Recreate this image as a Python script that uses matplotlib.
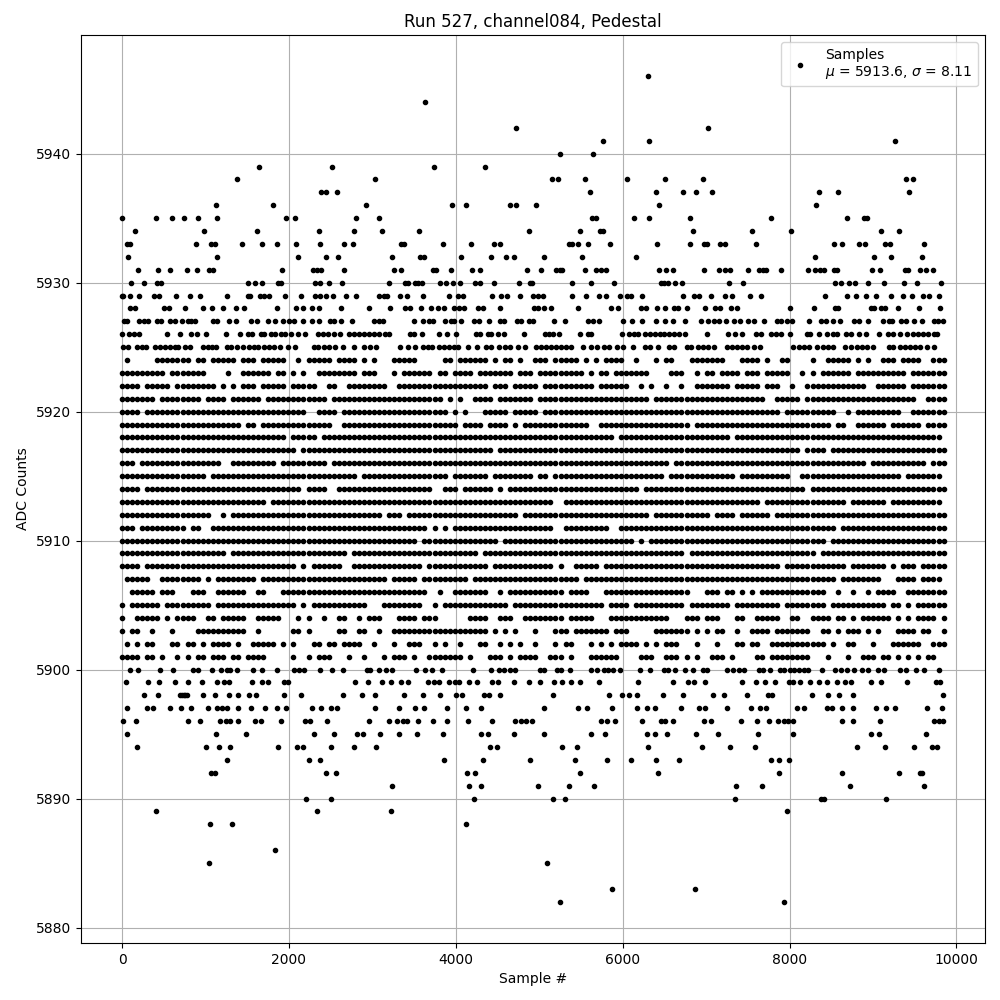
import matplotlib
matplotlib.use("Agg")
import matplotlib.pyplot as plt

# ADC levels with few samples: sample numbers
lvl_5946 = [6298]
lvl_5944 = [3632]
lvl_5942 = [4724, 7018]
lvl_5941 = [5758, 6310, 9262]
lvl_5940 = [5254, 5650]
lvl_5939 = [1640, 2516, 3740, 4352]
lvl_5938 = [1376, 3032, 5158, 5230, 5554, 6046, 6502, 6958, 9394, 9478]
lvl_5937 = [2384, 2444, 2576, 5614, 6394, 6718, 6874, 7066, 8350, 8578, 9430]
lvl_5936 = [1124, 1808, 2924, 3956, 4124, 4652, 4724, 4966, 6430, 8314]
lvl_5935 = [0, 404, 596, 740, 908, 1136, 1964, 2072, 2804, 3080, 5638, 5686, 6130, 6310, 6802, 7774, 8686, 8890, 8922]
lvl_5934 = [152, 980, 1616, 2360, 2780, 3116, 3560, 4876, 5494, 5722, 5758, 6838, 7546, 8014, 9094, 9310]
lvl_5933 = [56, 92, 884, 1064, 1112, 1436, 1676, 1856, 2084, 2372, 2660, 2768, 3344, 3380, 3848, 4184, 4460, 4532,
            5362, 5398, 5470, 5590, 5842, 6406, 6802, 6970, 7006, 7162, 7222, 7594, 8530, 8626, 8830, 8902, 9142, 9202, 9610]
lvl_5932 = [68, 1136, 2108, 2444, 2588, 3236, 3572, 3620, 4064, 4424, 4604, 4700, 5062, 5518, 6154, 8302, 9010, 9214, 9586]
lvl_5931 = [188, 428, 572, 776, 896, 1040, 1088, 1916, 2288, 2336, 2384, 2660, 3260, 3344, 3728, 3764, 3944, 4196, 4292, 4856,
            5026, 5206, 5254, 5278, 5554, 5686, 5734, 5794, 6430, 6514, 6598, 6970, 7150, 7222, 7282, 7498, 7630, 7678, 7714,
            7894, 8218, 8302, 8362, 8410, 8530, 8566, 8986, 9082, 9382, 9418, 9562, 9634, 9718]
lvl_5930 = [104, 260, 416, 464, 1508, 1592, 1676, 1868, 1904, 2312, 2372, 2480, 2636, 3200, 3392, 3428, 3512, 3548, 3596,
            3812, 3884, 3968, 4052, 4232, 4292, 4460, 4760, 4892, 4918, 5398, 5626, 5890, 6454, 6490, 6538, 6622, 6706,
            7270, 7438, 8542, 8614, 8710, 8782, 8938, 9130, 9370, 9526, 9814]
lvl_5929 = [0, 16, 92, 200, 380, 440, 644, 812, 932, 1256, 1508, 1532, 1652, 1700, 1760, 1952, 2144, 2312, 2372, 2444, 2528,
            2684, 2804, 3080, 3140, 3176, 3332, 3416, 3608, 3920, 4028, 4088, 4436, 4544, 4616, 4772, 4930, 4990, 5050,
            5398, 5566, 5710, 5794, 5962, 6046, 6094, 6226, 6718, 6850, 6910, 7054, 7222, 7306, 7522, 7654, 8422, 8686,
            8794, 8914, 9034, 9214, 9358, 9466, 9598, 9670, 9790]
lvl_5928 = [92, 152, 500, 560, 752, 968, 1076, 1208, 1364, 1460, 1856, 2084, 2168, 2276, 2360, 2624, 2960, 3212, 3392, 3452,
            3584, 3704, 3788, 3860, 3980, 4040, 4100, 4268, 4328, 4532, 4942, 4990, 5062, 5146, 5470, 5854, 5938, 6214, 6274,
            6406, 6502, 6610, 6658, 6766, 6982, 7102, 7162, 7294, 7366, 8002, 8290, 8542, 8578, 8974, 9010, 9094, 9142, 9298, 9550, 9802]
lvl_5927 = [20, 56, 200, 260, 308, 416, 464, 572, 632, 716, 788, 824, 872, 1088, 1136, 1280, 1364, 1544, 1616, 1748, 1832,
            1928, 2000, 2060, 2168, 2276, 2360, 2492, 2540, 2624, 2756, 3020, 3080, 3128, 3500, 3608, 3680, 3728, 3872, 3944,
            3980, 4064, 4220, 4280, 4400, 4532, 4580, 4736, 4784, 4880, 4930, 5182, 5314, 5590, 5650, 5710, 5998, 6106, 6226,
            6394, 6502, 6598, 6742, 6934, 7018, 7090, 7150, 7234, 7330, 7402, 7498, 7570, 7690, 7846, 7894, 7966, 8026, 8230,
            8374, 8434, 8518, 8602, 8770, 8830, 8938, 9118, 9190, 9226, 9334, 9394, 9490, 9586, 9730, 9778, 9838]
lvl_5926 = [0, 80, 140, 200, 536, 692, 824, 896, 1004, 1244, 1412, 1508, 1556, 1664, 1700, 1784, 1832, 1904, 1952, 2024, 2108,
            2192, 2348, 2408, 2468, 2540, 2612, 2720, 2780, 2840, 2900, 2960, 3020, 3080, 3152, 3200, 3452, 3500, 3596, 3800,
            3896, 4004, 4244, 4292, 4388, 4424, 4508, 4580, 4820, 5074, 5122, 5170, 5242, 5494, 5590, 5626, 5986, 6070, 6130,
            6178, 6262, 6322, 6382, 6442, 6490, 6550, 6610, 6670, 6742, 7006, 7258, 7342, 7426, 7594, 7654, 7774, 7834, 7894,
            8002, 8206, 8242, 8350, 8446, 8518, 8566, 8674, 8734, 8830, 8914, 9070, 9178, 9238, 9322, 9406, 9478, 9538, 9598,
            9658, 9730, 9766]
lvl_5925 = [12, 68, 176, 236, 284, 392, 452, 512, 572, 632, 668, 752, 812, 968, 1028, 1076, 1124, 1256, 1304, 1376, 1448,
            1520, 1580, 1628, 1700, 1760, 1820, 1892, 1988, 2072, 2300, 2348, 2420, 2480, 2552, 2648, 2780, 2900, 2972, 3044,
            3332, 3428, 3512, 3608, 3668, 3716, 3800, 3860, 3920, 3980, 4028, 4148, 4256, 4364, 4424, 4520, 4592, 4652, 4748,
            4832, 4966, 5026, 5086, 5146, 5206, 5266, 5326, 5386, 5530, 5626, 5698, 5770, 5830, 5926, 5998, 6118, 6262, 6322,
            6418, 6550, 6610, 6766, 6814, 6898, 6958, 7018, 7090, 7246, 7306, 7366, 7426, 7486, 7570, 7642, 8038, 8110, 8170,
            8230, 8326, 8398, 8458, 8518, 8662, 8738, 8806, 8866, 8926, 8998, 9190, 9238, 9322, 9382, 9442, 9502, 9562, 9646, 9730]
lvl_5900 = [92, 188, 452, 608, 848, 908, 1076, 1180, 1252, 1292, 1372, 1568, 1676, 1856, 2060, 2120, 2180, 2372, 2516, 2648,
            2932, 2972, 3080, 3160, 3240, 3524, 3632, 3716, 3836, 4208, 4424, 4520, 4580, 4652, 4712, 5010, 5058, 5210, 5266,
            5374, 5626, 5690, 5770, 5818, 5878, 5962, 6202, 6322, 6490, 6538, 6622, 6742, 6838, 6958, 7006, 7246, 7318, 7390,
            7450, 7630, 7678, 7762, 7882, 7930, 8002, 8050, 8110, 8170, 8218, 8390, 8542, 8614, 8690, 8770, 8866, 8938, 9058,
            9130, 9322, 9394, 9514, 9610, 9790]
lvl_5899 = [48, 308, 440, 632, 788, 956, 1136, 1220, 1280, 1556, 1676, 1748, 1940, 1988, 2796, 2948, 3116, 3224, 3344, 3428,
            3668, 3740, 3800, 3920, 3992, 4040, 4160, 4256, 4436, 4500, 4700, 4880, 5010, 5182, 5278, 5386, 5490, 5710, 6178,
            6598, 6778, 6850, 6982, 7426, 7594, 7702, 7822, 7990, 8038, 8122, 8242, 8350, 8446, 8566, 8662, 8734, 8974, 9090,
            9406, 9754, 9802]
lvl_5898 = [260, 428, 700, 720, 740, 760, 780, 968, 1112, 1280, 1388, 1520, 1604, 1940, 2140, 2648, 2876, 3032, 3380, 3608,
            3812, 4000, 4080, 4340, 4400, 4532, 5170, 5830, 5986, 6070, 6166, 6478, 6722, 7078, 7210, 7486, 7738, 7786, 8266,
            8458, 8590, 8758, 9838]
lvl_5897 = [56, 296, 368, 572, 704, 824, 1028, 1136, 1196, 1256, 1388, 1544, 1712, 1860, 1964, 2276, 2384, 2504, 2576, 3032,
            3320, 3512, 3620, 3900, 4128, 4304, 5062, 5470, 5578, 5866, 6166, 6286, 6382, 6694, 6910, 6982, 7246, 7534, 7642,
            7714, 8086, 8170, 8446, 8506, 8626, 8758, 9030, 9154, 9262, 9646, 9826]
lvl_5896 = [8, 168, 788, 932, 1172, 1244, 1292, 1388, 1592, 1664, 1904, 2192, 2252, 2456, 2960, 3200, 3296, 3368, 3416, 3548,
            3728, 3900, 4148, 4436, 4712, 4784, 4844, 4918, 5734, 5806, 5902, 6226, 6454, 6502, 6598, 6970, 7054, 7414, 7606,
            7750, 7858, 7930, 7978, 8038, 8626, 8758, 9082, 9730, 9790, 9838]
lvl_5895 = [60, 1124, 1484, 2300, 2540, 2816, 2888, 3092, 3320, 3540, 3848, 4304, 4388, 4700, 5062, 5626, 5782, 6286, 6382,
            6526, 6874, 7138, 7618, 8038, 8974, 9070, 9634]
lvl_5894 = [176, 1004, 1160, 1292, 1868, 2096, 2164, 2504, 2780, 3044, 4412, 4488, 5278, 5458, 6298, 6946, 7282, 7582, 8806,
            9142, 9490, 9706, 9766]
lvl_5893 = [1256, 2240, 2372, 3860, 4328, 4892, 5434, 5806, 6094, 6394, 6670, 7774, 7870, 7990]
lvl_5892 = [1064, 1112, 2444, 2564, 4136, 4232, 5494, 6418, 7870, 8626, 9310, 9562, 9586]
lvl_5891 = [3236, 4160, 4304, 4990, 5362, 5662, 7354, 7666, 8722, 9610]
lvl_5890 = [2204, 2504, 4220, 5170, 5314, 7342, 8374, 8410, 9154]
lvl_5889 = [404, 2336, 3224, 7966]
lvl_5888 = [1052, 1316, 4124]
lvl_5886 = [1832]
lvl_5885 = [1040, 5098]
lvl_5883 = [5866, 6862]
lvl_5882 = [5254, 7930]

# ADC levels that are nearly full: one character per 60 samples, '#' where a sample shows
row_5924 = ".#.....### ####.##.## ###.###.## ###..#.### ##.####.#. #...#####. ....##.### ###.#.##.# ..###.#### #.#.#.#### ..#...#.## ...####### ...####.#. .##....#.. #####.#.#. .###.####. .###"
row_5923 = "#########. #######... .#..###### .##.#.#..# #######.## #...#.#### ##.##.#### .#######.# ##.####### ##.#.##.## #####....# ##..#.##.# ###.###.## ###..#.#.# #####.#### ######.### ####"
row_5922 = "####.##### .########. #.#.###.## ###.#####. .##..##### ###..##### ########## ###.###.## ###.###### ####.##### #..#.#..#. .#..###### #.#####.## #..#..#### ########.. ######.### ####"
row_5921 = "#######.## ######.### #.######.# ########## #.######## ########## ####.#.#.. ####.##### ##.####### ########## #####.#### ########## ########.. #####.#### ########## ########.. ####"
row_5920 = "####.##### ########## ########## #######..# ###.###### ########## #####.#.#. ..#####.## ###.###### ########## ########## ########## ########## #.######## ##..#.#### #####..### ####"
row_5919 = "########## ########## ####.##.## ########## ##..###### ########## #######.## ##.####.#. ########## ###..##### ########## ###.###### ########## ########## #.##..#### ##.######. ####"
row_5918 = "########## ########## ########## ###.#####. ########## ########## ########## ########## ########## ########.# ########## ########## #.######## ########## ########## ########## ###."
row_5917 = "########## ########## ########## #####.#### ########## ########## ########## ####.##### ########## ########## ########## ########## ########## #####.#### .######### ########## ####"
row_5916 = "###.###### ########## ..######## #.######## #.######## ########## ########## ########## ########## ########## #########. ########## ########## ########## ########.# ########## .###"
row_5915 = "########## #######.## ########## ########## #######.## ########## #####.#### ###.###### ##.##.#### ########## ########.# ########## ##.####### ###..##### ########## #####.#### ###."
row_5914 = "####.##### ########## ########## ######.### #..####### ########## ##..###.## ####.#.### ########## ########## ###.###### ########## ########## ######.### ########## ########## ####"
row_5913 = "########## ########## #########. ########## ########## ########## ########## ########## ######..## ########## ########## ########## #######.## ########## ####.##### ##.####### ###."
row_5912 = "########## ########.. #.######## ########## ########## ##.###.### ########## #########. ########## ########## #####.#### #######.## ##.######. ########## ########## ########## ####"
row_5911 = "###.###### ###.##..## ########## ########## ########## ########## #.#.#.#### ########## ######..## #######..# ########## ########## ########## ########## ##.####### ########## ####"
row_5910 = "########## ########## ########## ########## ########## #########. ########## #####.#### ########## ########## ##.#.##### ########## ########## ########## .######### ########## ####"
row_5909 = "########## ########## #.######## ########## #####.#### ########## ########## #.######## ########## ########## ########## ##.####### ########## ########.# ########## ########## ####"
row_5908 = "####.##### ########## ########## #####.#.## ####..#### ########## .######### ###.###### ######.#.. #####.#### ########## ########## ########## #.######## ####.##### ##.#.###.# ####"
row_5907 = ".#####..## ######.#.# #######.## ########## ########## ###.#####. #########. ########## ########## #.######## ########## ########## ########## ########## ##.####### #...####.# ###."
row_5906 = "..#####.## #...###..# #####..##. ..######## ########## ########## #..#..#### ###..#.### ########.# ###...#### ########## ###...###. ##.#.#.### ########## ..#..#..#. ####..#### ####"
row_5905 = "#.######.# ########.# ########## #####.#.## #########. ..######## ..#.###### #######.## ########## ######.### #.######## ##.####### #.######## #.######## .######### ##.##.#.## ####"
row_5904 = "#..#####.# .####..##. #####..### ##...#.#.. #..##..#.# ##...####. ###......# ###..###.. ########.# ####...### #########. ..###.###. ..##..#### #..##..### #.##.#.### ###.#.#.## ##.#"
row_5903 = "#.##..#... #....##### #####..#.. ....##.#.. ...##..##. .#..###### ########## ###.#.#.#. ..#...###. #######.## #.....#### ###.#.#.## ..#..####. #######..# #.#.###.#. #...####.# #..#"
row_5902 = ".#.#.##... ##.##.#.## ##.#..#### #.#.#...## .##.####.. #...#..### ..#.#..#.. .##..#.#.# ..#...#.## ...#.#.#.# ###.#.#.## #...#...#. ..##.##..# ########## .#..##...# ...######. .###"
row_5901 = "####.##.#. .#.#.##.## #.##.####. ....#..#.# ##...#..#. ..#.###.#. .#######.# ...###.#.# ###..###.# ...######. ...###..## #.#.#..### .#....##.# #######... #...#..### .##.#.#.#. ##.."

BIN_WIDTH = 60.4
TITLE = "Run 527, channel084, Pedestal"
LEGEND_LABEL = "Samples\n$\\mu$ = 5913.6, $\\sigma$ = 8.11"

samples, counts = [], []
namespace = dict(globals())
for name, value in namespace.items():
    if name.startswith("lvl_"):
        level = int(name[4:])
        samples.extend(value)
        counts.extend([level] * len(value))
    elif name.startswith("row_"):
        level = int(name[4:])
        for i, ch in enumerate(value.replace(" ", "")):
            if ch == "#":
                samples.append(i * BIN_WIDTH)
                counts.append(level)

fig, ax = plt.subplots(figsize=(10, 10), dpi=100)
ax.plot(samples, counts, "k.", label=LEGEND_LABEL)
ax.set_xlim(-492, 10342)
ax.set_ylim(5878.8, 5949.2)
ax.set_title(TITLE)
ax.set_xlabel("Sample #")
ax.set_ylabel("ADC Counts")
ax.grid(True)
ax.legend(loc="upper right")
fig.subplots_adjust(left=0.081, right=0.985, bottom=0.057, top=0.965)
fig.savefig("out.png", dpi=100)
